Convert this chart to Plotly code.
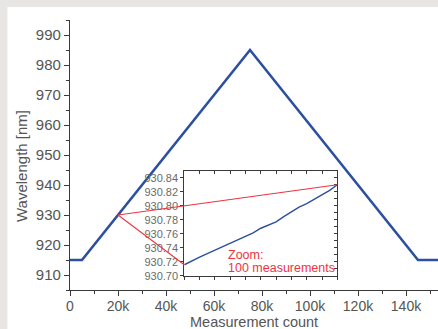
import plotly.graph_objects as go

# ---- data ----
count = [0, 5000, 75000, 145000, 153500]
wavelength = [915, 915, 985, 915, 915]

zoom_idx = [0, 5, 10, 15, 20, 25, 30, 35, 40, 45, 50, 55, 60, 65, 70, 75, 80, 85, 90, 95, 100]
zoom_wl = [930.716, 930.722, 930.727, 930.732, 930.737, 930.741, 930.747, 930.752, 930.757,
           930.7615, 930.768, 930.772, 930.777, 930.7845, 930.791, 930.798, 930.803, 930.809,
           930.816, 930.822, 930.830]
zoom_origin = (20000, 930)

x_tickvals = [0, 20000, 40000, 60000, 80000, 100000, 120000, 140000]
x_ticktext = ["0", "20k", "40k", "60k", "80k", "100k", "120k", "140k"]
inset_yticks = [930.70, 930.72, 930.74, 930.76, 930.78, 930.80, 930.82, 930.84]

# ---- layout constants ----
W, H = 438, 329
ML, MR, MT, MB = 70, 0, 20, 39
PW, PH = W - ML - MR, H - MT - MB
XR = [0, PW / 2.4 * 1000]
YR = [905, 995]
IX_DOM = [0.3106, 0.7264]
IY_DOM = [0.0519, 0.4419]
IXR = [0, 100]
IYR = [930.70, 930.85]

BLUE = "#2c4f9e"
RED = "#ee3442"
AX = "#3a3a3a"
TXT = "#555555"
FONT = "Liberation Sans"

fig = go.Figure()
fig.add_trace(go.Scatter(x=count, y=wavelength, mode="lines",
                         line=dict(color=BLUE, width=2.6), xaxis="x", yaxis="y",
                         showlegend=False, hoverinfo="skip"))
fig.add_trace(go.Scatter(x=zoom_idx, y=zoom_wl, mode="lines",
                         line=dict(color=BLUE, width=1.4), xaxis="x2", yaxis="y2",
                         showlegend=False, hoverinfo="skip"))
# invisible trace so the overlay axes are drawn
fig.add_trace(go.Scatter(x=[None], y=[None], xaxis="x3", yaxis="y3", showlegend=False,
                         hoverinfo="skip"))


def main_to_paper(x, y):
    return ((x - XR[0]) / (XR[1] - XR[0]), (y - YR[0]) / (YR[1] - YR[0]))


def inset_to_paper(x, y):
    fx = (x - IXR[0]) / (IXR[1] - IXR[0])
    fy = (y - IYR[0]) / (IYR[1] - IYR[0])
    return (IX_DOM[0] + fx * (IX_DOM[1] - IX_DOM[0]),
            IY_DOM[0] + fy * (IY_DOM[1] - IY_DOM[0]))


def px_to_paper(px, py):
    return ((px - ML) / PW, (MT + PH - py) / PH)


shapes = []
# page background: grey strips on left/top, white elsewhere
bx0, by1 = px_to_paper(7.5, 7)
bx1, by0 = px_to_paper(W + 5, H + 5)
shapes.append(dict(type="rect", xref="paper", yref="paper", layer="below",
                   x0=bx0, x1=bx1, y0=by0, y1=by1,
                   fillcolor="white", line=dict(width=0)))
p0 = main_to_paper(*zoom_origin)
for (ix, iy) in [(zoom_idx[0], zoom_wl[0]), (zoom_idx[-1], zoom_wl[-1])]:
    p1 = inset_to_paper(ix, iy)
    shapes.append(dict(type="line", xref="paper", yref="paper", layer="above",
                       x0=p0[0], y0=p0[1], x1=p1[0], y1=p1[1],
                       line=dict(color=RED, width=1.1)))

tickfont = dict(family=FONT, size=15, color=TXT)
xtickfont = dict(family=FONT, size=14, color=TXT)
small = dict(family=FONT, size=11, color="#6a6a6a")

fig.update_layout(
    width=W, height=H,
    margin=dict(l=ML, r=MR, t=MT, b=MB, pad=0, autoexpand=False),
    paper_bgcolor="#e8e6e5", plot_bgcolor="white",
    font=dict(family=FONT, color=TXT),
    shapes=shapes,
    xaxis=dict(range=XR, domain=[0, 1], anchor="y", showgrid=False, zeroline=False,
               automargin=False,
               showline=True, linecolor=AX, linewidth=1.3,
               ticks="outside", ticklen=5, tickcolor=AX, tickwidth=1.3,
               tickvals=x_tickvals, ticktext=x_ticktext, tickfont=xtickfont,
               ticklabelstandoff=-2,
               minor=dict(ticks="outside", ticklen=3, dtick=10000, tick0=0,
                          tickcolor=AX, tickwidth=1.2)),
    yaxis=dict(range=YR, domain=[0, 1], anchor="x", showgrid=False, zeroline=False,
               automargin=False,
               showline=True, linecolor=AX, linewidth=1.3,
               ticks="outside", ticklen=5, tickcolor=AX, tickwidth=1.3,
               dtick=10, tick0=910, tickfont=tickfont,
               minor=dict(ticks="outside", ticklen=3, dtick=5, tick0=905,
                          tickcolor=AX, tickwidth=1.2)),
    xaxis2=dict(range=IXR, domain=IX_DOM, anchor="y2", showgrid=False, zeroline=False,
                automargin=False,
                showline=True, linecolor=AX, linewidth=1, mirror=True,
                ticks="outside", ticklen=3, tickcolor=AX, dtick=10, tick0=0,
                showticklabels=False),
    yaxis2=dict(range=IYR, domain=IY_DOM, anchor="x2", showgrid=False, zeroline=False,
                automargin=False,
                showline=True, linecolor=AX, linewidth=1, mirror=True,
                ticks="outside", ticklen=3, tickcolor=AX,
                tickvals=inset_yticks, ticktext=[f"{v:.2f}" for v in inset_yticks],
                tickfont=small),
    xaxis3=dict(range=IXR, overlaying="x2", anchor="y2", side="top", showgrid=False,
                automargin=False,
                zeroline=False, showline=False, ticks="inside", ticklen=3, tickcolor=AX,
                dtick=10, tick0=0, showticklabels=False),
    yaxis3=dict(range=IYR, overlaying="y2", anchor="x2", side="right", showgrid=False,
                automargin=False,
                zeroline=False, showline=False, ticks="inside", ticklen=3, tickcolor=AX,
                dtick=0.01, tick0=930.70, showticklabels=False),
)

# axis titles
tx, ty = px_to_paper(0, 321.5)
fig.add_annotation(text="Measurement count", xref="paper", yref="paper", x=0.5, y=ty,
                   xanchor="center", yanchor="middle", showarrow=False, borderpad=0,
                   font=dict(family=FONT, size=14.5, color=TXT))
tx, ty = px_to_paper(21, 166)
fig.add_annotation(text="Wavelength [nm]", xref="paper", yref="paper", x=tx, y=ty,
                   xanchor="center", yanchor="middle", showarrow=False, textangle=-90,
                   font=dict(family=FONT, size=15, color=TXT))

fig.add_annotation(text="Zoom:", xref="x2", yref="y2", x=27, y=930.730,
                   xanchor="left", yanchor="middle", showarrow=False,
                   font=dict(family=FONT, size=12.5, color=RED))
fig.add_annotation(text="100 measurements", xref="x2", yref="y2", x=27, y=930.7115,
                   xanchor="left", yanchor="middle", showarrow=False,
                   font=dict(family=FONT, size=12.5, color=RED))

fig.write_html("out.html",
               config={"displayModeBar": False},
               post_script="document.body.style.margin='0px';"
                           "document.body.style.overflow='hidden';")
